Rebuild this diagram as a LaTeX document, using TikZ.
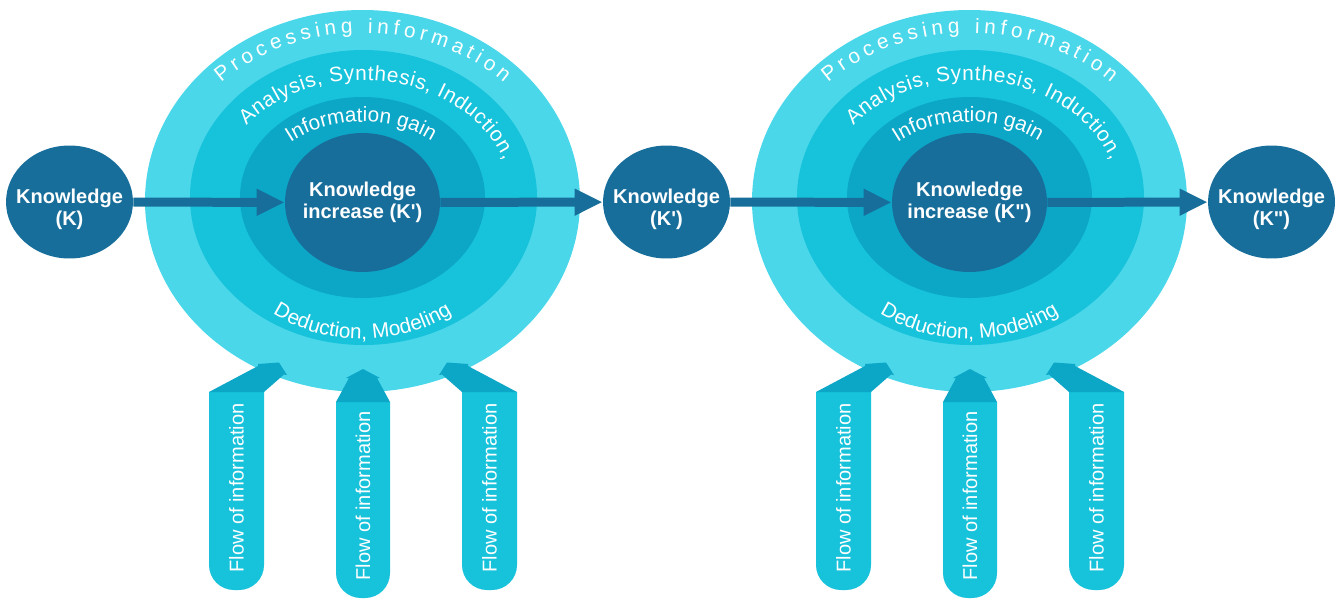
\documentclass[tikz,border=0pt]{standalone}
\usepackage{fontspec}
\setmainfont{Liberation Sans}
\usetikzlibrary{arrows.meta,decorations.text,shapes.geometric}

\definecolor{ringout}{HTML}{4AD7EA}
\definecolor{ringmid}{HTML}{17C2DB}
\definecolor{ringin}{HTML}{0CA6C7}
\definecolor{deep}{HTML}{176E9B}

\newcommand{\ringfont}{\fontsize{11.8}{14}\selectfont}

\tikzset{
  know/.style={ellipse, fill=deep, inner sep=0pt, minimum width=2.54cm, minimum height=2.26cm},
  core/.style={ellipse, fill=deep, inner sep=0pt, minimum width=3.1cm, minimum height=2.78cm},
  boldtxt/.style={text=white, align=center, font=\bfseries\fontsize{11.4}{12.6}\selectfont},
  link/.style={draw=deep, line width=0.18cm, -{Triangle[length=0.56cm, width=0.5cm]}},
  bent/.style={decoration={text along path, text align=center, text color=white}, decorate},
  flowtxt/.style={rotate=90, text=white, font=\fontsize{11.4}{13}\selectfont},
  shaft/.style={fill=ringmid, rounded corners=0.5cm},
  head/.style={fill=ringin}
}

\begin{document}
\begin{tikzpicture}[x=0.02cm, y=0.02cm]

    \useasboundingbox (0,0) rectangle (1338,-599);

    \foreach \i/\dx/\kname in {1/0/K\textquotesingle, 2/607/K\textquotedbl}{
    \begin{scope}[shift={(\dx,0)}]
    \fill[ringout] (362.5,-201) ellipse [x radius=217.5, y radius=191];
    \fill[ringmid] (363.5,-197.5) ellipse [x radius=173.5, y radius=147.5];
    \fill[ringin] (362.5,-197.5) ellipse [x radius=122.5, y radius=100.5];
    \node[core, label={[boldtxt]center:Knowledge\\increase (\kname)}] (inc\i) at (362.5,-202.5) {};

    % ring captions
    \path[bent, decoration={text align={fit to path}, text={|\ringfont|Processing information}}]
        (221.1,-82.5) arc[start angle=135, end angle=45, x radius=200, y radius=169];
    \path[bent, decoration={text align={fit to path}, text={|\ringfont|Analysis, Synthesis, Induction,}}]
        (246.4,-125.2) arc[start angle=141, end angle=20, x radius=150, y radius=122];
    \path[bent, decoration={text={|\ringfont|Information gain}}]
        (269,-162) arc[start angle=150, end angle=32, x radius=108, y radius=80];
    \path[bent, decoration={text={|\ringfont|Deduction, Modeling}}]
        (243.8,-290.1) arc[start angle=220, end angle=320, x radius=155, y radius=137];

    % flow of information
    \fill[shaft] (209,-392) -- (209,-590) -- (264,-590) -- (264,-392);
    \fill[head] (209,-392) -- (258,-366) -- (258,-364) -- (279,-362.5) -- (287,-375) -- (284,-374.5) -- (264,-392) -- cycle;
    \node[flowtxt] (fl\i) at (236.5,-488) {Flow of information};

    \fill[shaft] (336,-402) -- (336,-598) -- (390,-598) -- (390,-402);
    \fill[head] (336,-402) -- (349,-378) -- (346,-378) -- (363,-369) -- (380,-378) -- (377,-378) -- (390,-402) -- cycle;
    \node[flowtxt] (fm\i) at (363,-496) {Flow of information};

    \fill[shaft] (462,-392) -- (462,-590) -- (517,-590) -- (517,-392);
    \fill[head] (517,-392) -- (468,-366) -- (468,-364) -- (447,-362.5) -- (439,-375) -- (442,-374.5) -- (462,-392) -- cycle;
    \node[flowtxt] (fr\i) at (489.5,-488) {Flow of information};
    \end{scope}
    }

    \node[know, label={[boldtxt, yshift=-0.14cm]center:Knowledge\\(K)}] (k0) at (69.5,-202) {};
    \node[know, label={[boldtxt, yshift=-0.14cm]center:Knowledge\\(K\textquotesingle)}] (k1) at (666.5,-202) {};
    \node[know, label={[boldtxt, yshift=-0.14cm]center:Knowledge\\(K\textquotedbl)}] (k2) at (1271.5,-202) {};

    \draw[link] (k0) -- (inc1);
    \draw[link] (inc1) -- (k1);
    \draw[link] (k1) -- (inc2);
    \draw[link] (inc2) -- (k2);
\end{tikzpicture}
\end{document}
